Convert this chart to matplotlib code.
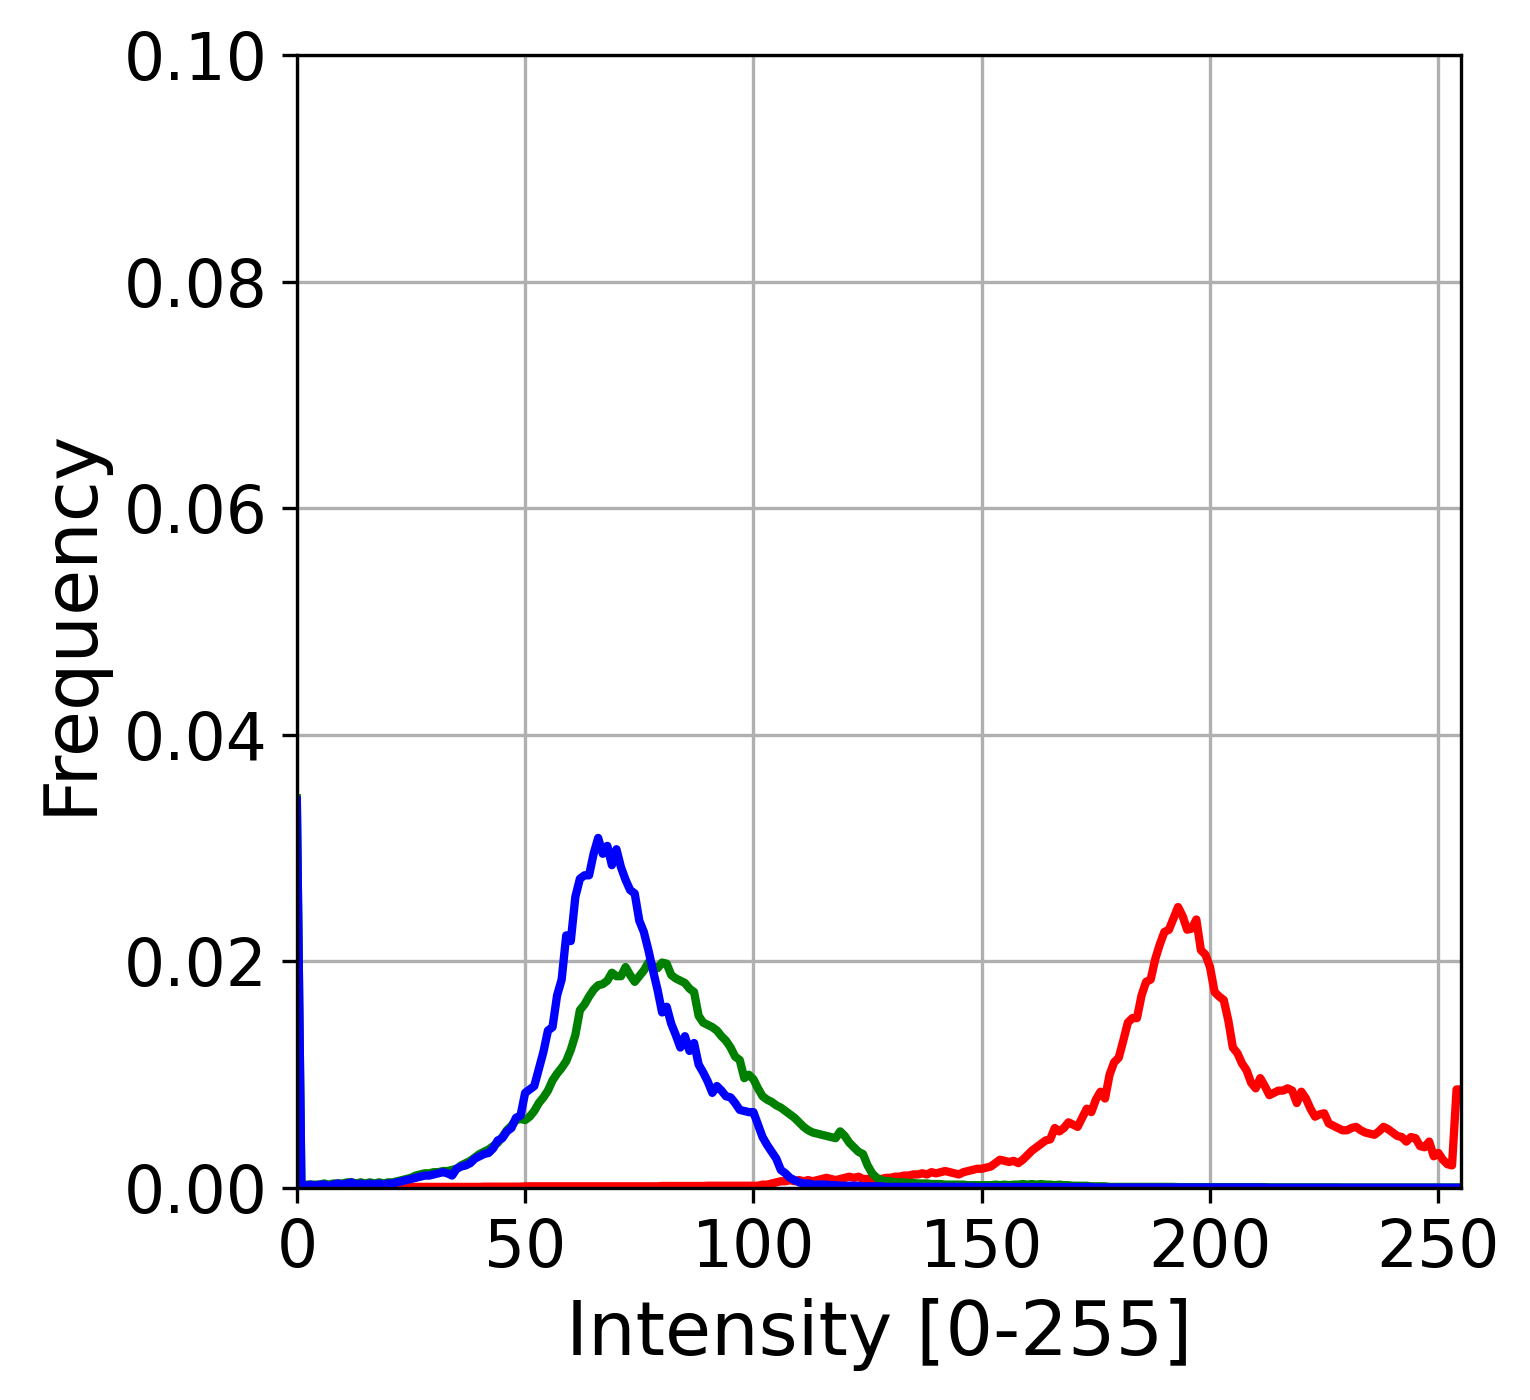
import matplotlib
matplotlib.use("Agg")
import matplotlib.pyplot as plt
import numpy as np

# Histogram values per channel, in units of 1e-3 (bins 0..255)
blue_vals = [
    34.2, 0.2, 0.2, 0.3, 0.2, 0.3, 0.3, 0.2, 0.3, 0.4, 0.3, 0.4, 0.5, 0.3, 0.4, 0.3,
    0.4, 0.3, 0.4, 0.3, 0.4, 0.4, 0.5, 0.6, 0.7, 0.8, 0.9, 1.0, 1.1, 1.1, 1.2, 1.3,
    1.4, 1.3, 1.1, 1.7, 1.9, 2.0, 2.2, 2.6, 2.8, 3.0, 3.1, 3.5, 4.2, 4.4, 5.0, 5.3,
    6.2, 6.4, 8.4, 8.7, 9.0, 10.5, 12.0, 13.9, 14.2, 17.0, 18.4, 22.3, 21.8, 25.7, 27.3, 27.6,
    27.6, 29.5, 30.9, 29.5, 30.2, 28.5, 29.9, 28.3, 27.2, 26.3, 26.0, 23.6, 22.6, 21.0, 19.2, 17.5,
    15.5, 16.0, 14.5, 13.5, 12.4, 13.4, 12.1, 12.8, 10.9, 10.2, 9.4, 8.4, 9.0, 8.6, 8.1, 8.0,
    7.5, 6.9, 6.8, 6.7, 6.7, 5.6, 4.5, 3.8, 3.2, 2.6, 1.6, 1.3, 0.9, 0.7, 0.5, 0.4,
    0.4, 0.3, 0.3, 0.3, 0.3, 0.25, 0.25, 0.2, 0.2, 0.2, 0.2, 0.2, 0.15, 0.15, 0.15, 0.15,
    0.15, 0.1, 0.1, 0.1, 0.1, 0.1, 0.1, 0.1, 0.1, 0.1, 0.1, 0.1, 0.1, 0.1, 0.1, 0.1,
    0.1, 0.1, 0.1, 0.1, 0.1, 0.08, 0.08, 0.08, 0.08, 0.08, 0.08, 0.08, 0.08, 0.08, 0.08, 0.08,
    0.08, 0.08, 0.08, 0.08, 0.08, 0.08, 0.08, 0.08, 0.08, 0.08, 0.08, 0.08, 0.08, 0.08, 0.08, 0.05,
    0.05, 0.05, 0.05, 0.05, 0.05, 0.05, 0.05, 0.05, 0.05, 0.05, 0.05, 0.05, 0.05, 0.05, 0.05, 0.05,
    0.05, 0.05, 0.05, 0.05, 0.05, 0.05, 0.05, 0.05, 0.05, 0.05, 0.05, 0.05, 0.05, 0.05, 0.05, 0.05,
    0.05, 0.05, 0.05, 0.05, 0.03, 0.03, 0.03, 0.03, 0.03, 0.03, 0.03, 0.03, 0.03, 0.03, 0.03, 0.03,
    0.03, 0.03, 0.03, 0.03, 0.03, 0.03, 0.03, 0.03, 0.03, 0.03, 0.03, 0.03, 0.03, 0.03, 0.03, 0.03,
    0.03, 0.03, 0.03, 0.03, 0.03, 0.03, 0.03, 0.03, 0.03, 0.03, 0.03, 0.03, 0.03, 0.03, 0.03, 0.03,
]

green_vals = [
    34.4, 0.3, 0.3, 0.3, 0.3, 0.3, 0.4, 0.3, 0.4, 0.4, 0.4, 0.5, 0.5, 0.4, 0.5, 0.4,
    0.5, 0.4, 0.5, 0.4, 0.5, 0.5, 0.6, 0.7, 0.8, 0.9, 1.1, 1.2, 1.3, 1.3, 1.4, 1.4,
    1.5, 1.5, 1.6, 1.7, 2.0, 2.2, 2.4, 2.7, 3.0, 3.2, 3.4, 3.7, 4.0, 4.5, 5.1, 5.5,
    6.0, 6.1, 6.0, 6.3, 6.8, 7.5, 8.0, 8.6, 9.5, 10.1, 10.6, 11.2, 12.2, 13.5, 15.7, 16.2,
    16.9, 17.5, 17.9, 18.0, 18.3, 19.0, 18.7, 18.7, 19.5, 18.8, 18.2, 18.7, 19.2, 19.9, 19.6, 19.4,
    19.9, 19.8, 18.8, 18.5, 18.3, 18.1, 17.6, 17.3, 15.2, 14.6, 14.4, 14.2, 13.9, 13.4, 13.0, 12.4,
    11.6, 11.3, 9.7, 10.0, 9.6, 8.8, 8.1, 7.8, 7.6, 7.3, 7.1, 6.8, 6.5, 6.2, 5.8, 5.4,
    5.1, 4.9, 4.8, 4.7, 4.6, 4.5, 4.4, 5.0, 4.6, 4.0, 3.6, 3.2, 3.0, 2.0, 1.3, 0.9,
    0.7, 0.6, 0.6, 0.5, 0.5, 0.5, 0.45, 0.45, 0.4, 0.4, 0.4, 0.35, 0.35, 0.35, 0.3, 0.3,
    0.3, 0.3, 0.3, 0.25, 0.25, 0.25, 0.25, 0.25, 0.25, 0.3, 0.25, 0.3, 0.25, 0.3, 0.3, 0.35,
    0.3, 0.35, 0.3, 0.35, 0.3, 0.3, 0.25, 0.3, 0.25, 0.25, 0.2, 0.2, 0.2, 0.2, 0.15, 0.15,
    0.15, 0.15, 0.1, 0.1, 0.1, 0.1, 0.1, 0.1, 0.1, 0.1, 0.1, 0.1, 0.1, 0.1, 0.1, 0.1,
    0.1, 0.08, 0.08, 0.08, 0.08, 0.08, 0.08, 0.08, 0.08, 0.08, 0.08, 0.08, 0.08, 0.08, 0.08, 0.08,
    0.08, 0.08, 0.08, 0.08, 0.08, 0.06, 0.06, 0.06, 0.06, 0.06, 0.06, 0.06, 0.06, 0.06, 0.06, 0.06,
    0.06, 0.06, 0.06, 0.06, 0.06, 0.05, 0.05, 0.05, 0.05, 0.05, 0.05, 0.05, 0.05, 0.05, 0.05, 0.05,
    0.05, 0.05, 0.05, 0.05, 0.05, 0.05, 0.05, 0.05, 0.05, 0.05, 0.05, 0.05, 0.05, 0.05, 0.05, 0.05,
]

red_vals = [
    0.1, 0.05, 0.05, 0.05, 0.05, 0.05, 0.05, 0.05, 0.05, 0.05, 0.05, 0.05, 0.05, 0.05, 0.05, 0.05,
    0.05, 0.05, 0.05, 0.05, 0.05, 0.05, 0.05, 0.05, 0.05, 0.1, 0.1, 0.1, 0.1, 0.1, 0.1, 0.1,
    0.1, 0.1, 0.1, 0.1, 0.1, 0.1, 0.1, 0.1, 0.1, 0.12, 0.12, 0.12, 0.12, 0.12, 0.12, 0.12,
    0.12, 0.12, 0.15, 0.15, 0.15, 0.15, 0.15, 0.15, 0.15, 0.15, 0.15, 0.15, 0.15, 0.15, 0.15, 0.15,
    0.15, 0.15, 0.15, 0.15, 0.15, 0.15, 0.15, 0.15, 0.15, 0.15, 0.15, 0.15, 0.15, 0.15, 0.15, 0.15,
    0.18, 0.18, 0.18, 0.18, 0.18, 0.18, 0.18, 0.18, 0.18, 0.18, 0.2, 0.2, 0.2, 0.2, 0.2, 0.2,
    0.2, 0.2, 0.2, 0.2, 0.2, 0.2, 0.3, 0.3, 0.4, 0.5, 0.6, 0.6, 0.7, 0.6, 0.7, 0.6,
    0.7, 0.6, 0.7, 0.8, 0.9, 0.8, 0.7, 0.8, 0.9, 1.0, 0.9, 1.0, 0.8, 0.8, 0.7, 0.8,
    0.8, 0.9, 0.9, 1.0, 1.0, 1.1, 1.1, 1.2, 1.2, 1.3, 1.2, 1.4, 1.3, 1.4, 1.5, 1.4,
    1.3, 1.2, 1.4, 1.5, 1.6, 1.7, 1.7, 1.8, 1.9, 2.2, 2.5, 2.4, 2.3, 2.4, 2.2, 2.5,
    2.9, 3.3, 3.6, 3.9, 4.2, 4.3, 5.3, 5.0, 5.3, 5.8, 5.6, 5.4, 6.2, 7.0, 6.7, 7.8,
    8.5, 7.9, 10.0, 11.1, 11.5, 13.0, 14.6, 15.0, 15.0, 17.0, 18.2, 18.4, 20.2, 21.5, 22.6, 22.8,
    23.8, 24.8, 24.0, 22.8, 22.9, 23.7, 21.0, 20.6, 19.5, 17.3, 16.9, 16.6, 14.8, 12.4, 11.9, 11.0,
    10.4, 9.3, 8.8, 9.7, 9.0, 8.2, 8.4, 8.6, 8.6, 8.8, 8.6, 7.5, 8.5, 7.9, 7.0, 6.3,
    6.5, 6.6, 5.7, 5.5, 5.3, 5.1, 5.1, 5.3, 5.4, 5.1, 4.9, 4.8, 4.7, 5.0, 5.4, 5.2,
    4.9, 4.6, 4.5, 4.1, 4.5, 4.4, 3.7, 3.6, 4.1, 2.8, 3.1, 2.5, 2.1, 2.0, 8.7, 8.7,
]

intensity = np.arange(256)

fig = plt.figure(figsize=(5.1, 1400 / 300), dpi=300)
ax = fig.add_axes([0.194, 0.1514, 0.761, 0.8093])

# red first, blue on top (as in the original)
ax.plot(intensity, np.array(red_vals) / 1000, color="red", lw=2)
ax.plot(intensity, np.array(green_vals) / 1000, color="green", lw=2)
ax.plot(intensity, np.array(blue_vals) / 1000, color="blue", lw=2)

ax.set_xlim(0, 255)
ax.set_ylim(0, 0.1)
ax.set_xticks([0, 50, 100, 150, 200, 250])
ax.set_yticks([0.0, 0.02, 0.04, 0.06, 0.08, 0.10])
ax.tick_params(labelsize=15.5)
ax.set_xlabel("Intensity [0-255]", fontsize=18)
ax.set_ylabel("Frequency", fontsize=18)
ax.grid(True)

fig.savefig("out.png", dpi=300)
plt.close(fig)
